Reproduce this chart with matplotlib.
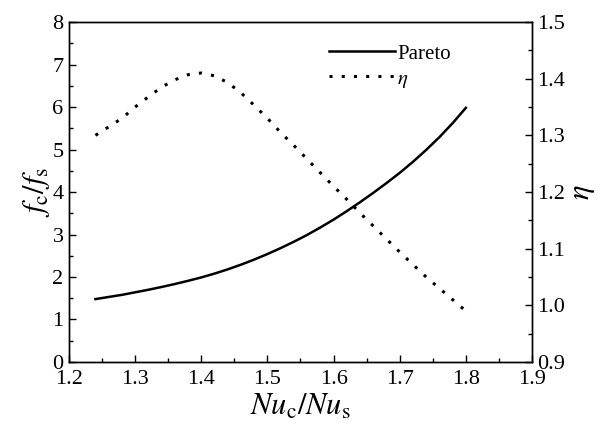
import numpy as np
import matplotlib.pyplot as plt
from matplotlib.ticker import MultipleLocator

# Pareto front f_c/f_s vs Nu_c/Nu_s
nu_ratio = [1.24, 1.26, 1.28, 1.30, 1.32, 1.34, 1.36, 1.38, 1.40, 1.42, 1.44, 1.46,
            1.48, 1.50, 1.52, 1.54, 1.56, 1.58, 1.60, 1.62, 1.64, 1.66, 1.68, 1.70,
            1.72, 1.74, 1.76, 1.78, 1.80]
f_ratio = [1.48, 1.53, 1.58, 1.64, 1.70, 1.765, 1.835, 1.91, 1.99, 2.08, 2.18, 2.29,
           2.41, 2.54, 2.68, 2.83, 2.99, 3.165, 3.35, 3.55, 3.76, 3.98, 4.21, 4.45,
           4.71, 4.99, 5.29, 5.62, 5.98]

# efficiency eta along the front
nu_eta = nu_ratio
eta = [1.300, 1.315, 1.330, 1.350, 1.368, 1.385, 1.398, 1.407, 1.410, 1.405, 1.393,
       1.375, 1.353, 1.330, 1.305, 1.282, 1.258, 1.234, 1.210, 1.187, 1.163, 1.140,
       1.117, 1.094, 1.072, 1.050, 1.030, 1.010, 0.990]

plt.rcParams['font.family'] = ['Liberation Serif', 'DejaVu Serif']
plt.rcParams['mathtext.fontset'] = 'stix'

fig = plt.figure(figsize=(5.98, 4.34), dpi=100)
ax = fig.add_axes([0.1154, 0.1659, 0.7742, 0.7834])
ax2 = ax.twinx()

l1, = ax.plot(nu_ratio, f_ratio, color='black', lw=1.8, label='Pareto')
l2, = ax2.plot(nu_eta, eta, color='black', lw=2.2, linestyle=(0, (1, 3)),
               label=r'$\eta$')

ax.set_xlim(1.2, 1.9)
ax.set_ylim(0, 8)
ax2.set_ylim(0.9, 1.5)

ax.xaxis.set_major_locator(MultipleLocator(0.1))
ax.xaxis.set_minor_locator(MultipleLocator(0.05))
ax.yaxis.set_major_locator(MultipleLocator(1))
ax.yaxis.set_minor_locator(MultipleLocator(0.5))
ax2.yaxis.set_major_locator(MultipleLocator(0.1))
ax2.yaxis.set_minor_locator(MultipleLocator(0.05))

ax.tick_params(which='both', direction='in', top=False, right=False, labelsize=16)
ax.tick_params(which='major', length=5, width=1, pad=4)
ax.tick_params(axis='x', which='major', pad=6)
ax.tick_params(which='minor', length=3, width=1)
ax2.tick_params(which='both', direction='in', labelsize=16)
ax2.tick_params(which='major', length=5, width=1, pad=4)
ax2.tick_params(which='minor', length=3, width=1)
ax.xaxis.set_major_formatter(plt.FormatStrFormatter('%.1f'))
ax2.yaxis.set_major_formatter(plt.FormatStrFormatter('%.1f'))

for a in (ax, ax2):
    for s in a.spines.values():
        s.set_linewidth(1.0)

ax.set_xlabel(r'$\mathit{Nu}_\mathrm{c}/\mathit{Nu}_\mathrm{s}$', fontsize=22, labelpad=2)
ax.set_ylabel(r'$f_\mathrm{c}/f_\mathrm{s}$', fontsize=22, labelpad=0)
ax2.set_ylabel(r'$\eta$', fontsize=22, labelpad=2)

ax.legend([l1, l2], ['Pareto', r'$\eta$'], loc='upper left',
          bbox_to_anchor=(0.52, 0.99), frameon=False, fontsize=15,
          handlelength=3.2, handletextpad=0.1, labelspacing=0.25)

plt.savefig('out.png', dpi=100)
